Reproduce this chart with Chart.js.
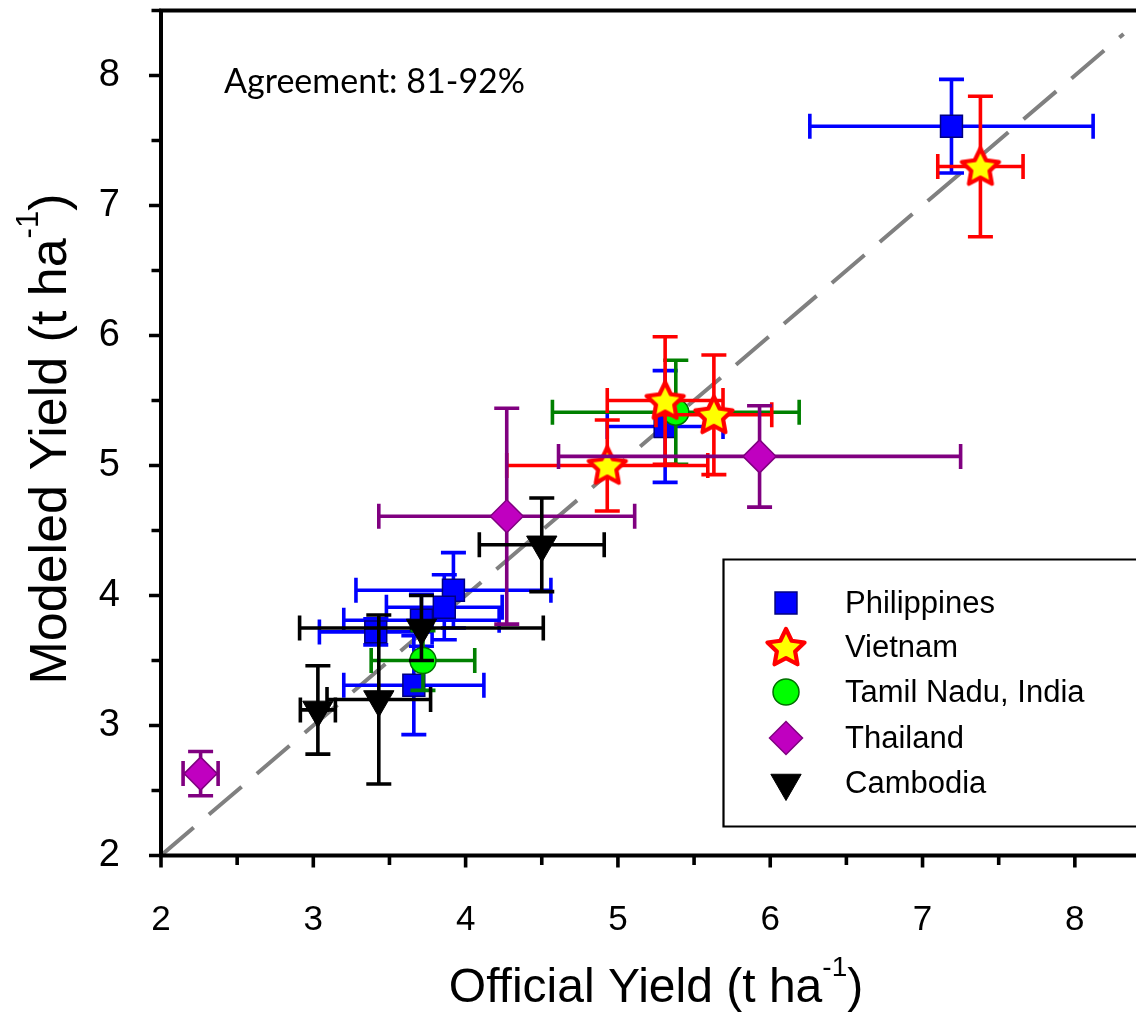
<!DOCTYPE html>
<html>
<head>
<meta charset="utf-8">
<script src="https://cdn.jsdelivr.net/npm/chart.js@4.4.1/dist/chart.umd.min.js"></script>
<style>
html,body{margin:0;padding:0;overflow:hidden;background:#ffffff;width:1136px;height:1021px}
#wrap{width:1160px;height:1021px}
canvas{display:block}
</style>
</head>
<body>
<div id="wrap"><canvas id="c" width="1160" height="1021"></canvas></div>
<script>
// ---------- data ----------
const seriesNames = ['Philippines', 'Vietnam', 'Tamil Nadu, India', 'Thailand', 'Cambodia'];

const phX    = [7.19, 5.31, 3.92, 3.86, 3.71, 3.41, 3.66];
const phY    = [7.61, 5.30, 4.04, 3.91, 3.81, 3.72, 3.31];
const phXErr = [0.93, 0.38, 0.64, 0.38, 0.51, 0.37, 0.46];
const phYErr = [0.36, 0.43, 0.29, 0.25, 0.20, 0.10, 0.38];

const vnX    = [7.38, 5.31, 5.63, 4.93];
const vnY    = [7.30, 5.50, 5.39, 5.00];
const vnXErr = [0.28, 0.38, 0.38, 0.66];
const vnYErr = [0.54, 0.49, 0.46, 0.35];

const tnX    = [5.38, 3.72];
const tnY    = [5.41, 3.50];
const tnXErr = [0.81, 0.34];
const tnYErr = [0.40, 0.23];

const thX    = [5.93, 4.27, 2.26];
const thY    = [5.07, 4.61, 2.63];
const thXErr = [1.32, 0.84, 0.115];
const thYErr = [0.39, 0.83, 0.17];

const cbX    = [4.50, 3.71, 3.43, 3.03];
const cbY    = [4.39, 3.75, 3.20, 3.12];
const cbXErr = [0.41, 0.80, 0.34, 0.115];
const cbYErr = [0.36, 0.25, 0.65, 0.34];

const oneToOneX = [2, 8.32];
const oneToOneY = [2, 8.32];

const axisMin = 2, axisMax = 8.5, tickStep = 0.5;
const tickValues = [2, 3, 4, 5, 6, 7, 8];
const tickLabels = ['2', '3', '4', '5', '6', '7', '8'];
const xTitle = ['Official Yield (t ha', '-1', ')'];
const yTitle = ['Modeled Yield (t ha', '-1', ')'];
const annotationText = 'Agreement: 81-92%';

// ---------- helpers ----------
const FONT = "'Liberation Sans', Arial, Helvetica, sans-serif";
const pts = (xs, ys) => xs.map((x, i) => ({x: x, y: ys[i]}));
const labelFor = v => { const k = tickValues.indexOf(v); return k >= 0 ? tickLabels[k] : ''; };

function makeStar(R, ri, fill, stroke, lw) {
  const size = Math.ceil(2 * R + 2 * lw + 4);
  const cv = document.createElement('canvas');
  cv.width = size; cv.height = size;
  const g = cv.getContext('2d');
  const c = size / 2;
  g.beginPath();
  for (let i = 0; i < 10; i++) {
    const r = i % 2 ? ri : R;
    const a = -Math.PI / 2 + i * Math.PI / 5;
    const px = c + r * Math.cos(a), py = c + 1.5 + r * Math.sin(a);
    if (i) g.lineTo(px, py); else g.moveTo(px, py);
  }
  g.closePath();
  g.fillStyle = fill; g.fill();
  g.lineWidth = lw; g.lineJoin = 'round'; g.strokeStyle = stroke; g.stroke();
  return cv;
}
const starImg = makeStar(19.5, 9.6, '#FFFF00', '#FF0000', 4.2);

const CAP = 12.5;
const errorBars = {
  id: 'errorBars',
  beforeDatasetDraw(chart, args) {
    const ds = chart.data.datasets[args.index];
    if (!ds.errX) return;
    const ctx = chart.ctx, xs = chart.scales.x, ys = chart.scales.y;
    ctx.save();
    ctx.strokeStyle = ds.errColor;
    ctx.lineWidth = 3.6;
    ctx.lineCap = 'butt';
    ds.data.forEach((p, i) => {
      const cx = xs.getPixelForValue(p.x), cy = ys.getPixelForValue(p.y);
      const x0 = xs.getPixelForValue(p.x - ds.errX[i]), x1 = xs.getPixelForValue(p.x + ds.errX[i]);
      const y0 = ys.getPixelForValue(p.y - ds.errY[i]), y1 = ys.getPixelForValue(p.y + ds.errY[i]);
      ctx.beginPath();
      ctx.moveTo(x0, cy); ctx.lineTo(x1, cy);
      ctx.moveTo(cx, y0); ctx.lineTo(cx, y1);
      ctx.moveTo(x0, cy - CAP); ctx.lineTo(x0, cy + CAP);
      ctx.moveTo(x1, cy - CAP); ctx.lineTo(x1, cy + CAP);
      ctx.moveTo(cx - CAP, y0); ctx.lineTo(cx + CAP, y0);
      ctx.moveTo(cx - CAP, y1); ctx.lineTo(cx + CAP, y1);
      ctx.stroke();
    });
    ctx.restore();
  }
};

function drawMarker(ctx, ds, x, y) {
  const st = ds.pointStyle, r = ds.pointRadius;
  ctx.save();
  ctx.fillStyle = ds.backgroundColor;
  ctx.strokeStyle = ds.borderColor;
  ctx.lineWidth = ds.borderWidth;
  if (st instanceof HTMLCanvasElement) {
    ctx.drawImage(st, x - st.width / 2, y - st.height / 2);
    ctx.restore(); return;
  }
  ctx.beginPath();
  if (st === 'rect') {
    const s = Math.SQRT1_2 * r; ctx.rect(x - s, y - s, 2 * s, 2 * s);
  } else if (st === 'circle') {
    ctx.arc(x, y, r, 0, Math.PI * 2);
  } else if (st === 'rectRot') {
    ctx.moveTo(x - r, y); ctx.lineTo(x, y - r); ctx.lineTo(x + r, y); ctx.lineTo(x, y + r);
  } else if (st === 'triangle') {
    let a = Math.PI;
    for (let k = 0; k < 3; k++) {
      const px = x + Math.sin(a) * r, py = y - Math.cos(a) * r;
      if (k) ctx.lineTo(px, py); else ctx.moveTo(px, py);
      a += 2 * Math.PI / 3;
    }
  }
  ctx.closePath();
  ctx.fill();
  if (ds.borderWidth > 0) ctx.stroke();
  ctx.restore();
}

function drawTitle(ctx, parts, size, supSize, supRise) {
  ctx.font = size + 'px ' + FONT;
  const w1 = ctx.measureText(parts[0]).width;
  const w3 = ctx.measureText(parts[2]).width;
  ctx.font = supSize + 'px ' + FONT;
  const w2 = ctx.measureText(parts[1]).width;
  let x = -(w1 + w2 + w3) / 2;
  ctx.textAlign = 'left'; ctx.textBaseline = 'alphabetic'; ctx.fillStyle = '#000';
  ctx.font = size + 'px ' + FONT; ctx.fillText(parts[0], x, 0); x += w1;
  ctx.font = supSize + 'px ' + FONT; ctx.fillText(parts[1], x, -supRise); x += w2;
  ctx.font = size + 'px ' + FONT; ctx.fillText(parts[2], x, 0);
}

const frame = {
  id: 'frame',
  afterDatasetsDraw(chart) {
    const ctx = chart.ctx, xs = chart.scales.x, ys = chart.scales.y, a = chart.chartArea;
    ctx.save();
    ctx.strokeStyle = '#000';
    ctx.lineCap = 'butt';
    ctx.lineWidth = 3.6;
    ctx.beginPath();
    for (let v = axisMin; v <= axisMax + 1e-9; v += tickStep) {
      const major = Math.abs(v - Math.round(v)) < 1e-9;
      const py = ys.getPixelForValue(v);
      ctx.moveTo(a.left, py); ctx.lineTo(a.left - (major ? 12 : 9.5), py);
      const px = xs.getPixelForValue(v);
      ctx.moveTo(px, a.bottom); ctx.lineTo(px, a.bottom + (major ? 12 : 9.5));
    }
    ctx.stroke();
    ctx.lineWidth = 4;
    ctx.beginPath();
    ctx.moveTo(a.left, a.top - 2); ctx.lineTo(a.left, a.bottom + 2);
    ctx.moveTo(a.left - 2, a.bottom); ctx.lineTo(chart.width, a.bottom);
    ctx.moveTo(a.left - 2, a.top); ctx.lineTo(chart.width, a.top);
    ctx.stroke();
    ctx.restore();
  },
  afterDraw(chart) {
    const ctx = chart.ctx, a = chart.chartArea;
    ctx.save();
    ctx.fillStyle = '#000';
    ctx.font = '34px Lato, "Open Sans", sans-serif';
    ctx.textAlign = 'left'; ctx.textBaseline = 'alphabetic';
    ctx.fillText(annotationText, 224, 93);
    ctx.save();
    ctx.translate((a.left + a.right) / 2, 1001.5);
    drawTitle(ctx, xTitle, 48, 28, 26);
    ctx.restore();
    ctx.save();
    ctx.translate(66, 439);
    ctx.rotate(-Math.PI / 2);
    drawTitle(ctx, yTitle, 52, 31, 28);
    ctx.restore();
    ctx.lineWidth = 2.2;
    ctx.strokeStyle = '#000';
    ctx.fillStyle = '#fff';
    ctx.beginPath();
    ctx.rect(723.5, 559.5, 500, 267);
    ctx.fill();
    ctx.stroke();
    const rows = [603, 647, 692, 738, 783];
    const legendOrder = [1, 3, 2, 4, 5];
    ctx.font = '31px ' + FONT;
    ctx.textAlign = 'left'; ctx.textBaseline = 'middle';
    legendOrder.forEach((di, k) => {
      const ds = chart.data.datasets[di];
      drawMarker(ctx, ds, 786, rows[k]);
      ctx.fillStyle = '#000';
      ctx.fillText(ds.label, 845, rows[k] + 1);
    });
    ctx.restore();
  }
};

// ---------- chart ----------
const datasets = [
  {
    label: '1:1', data: pts(oneToOneX, oneToOneY), showLine: true, pointRadius: 0,
    borderColor: '#808080', borderWidth: 4, borderDash: [43, 20], borderCapStyle: 'butt',
    fill: false, order: 10
  },
  {
    label: seriesNames[0], data: pts(phX, phY), errX: phXErr, errY: phYErr, errColor: '#0000FF',
    pointStyle: 'rect', pointRadius: 15.5, backgroundColor: '#0000FF', borderColor: '#000080', borderWidth: 1.5,
    order: 5
  },
  {
    label: seriesNames[2], data: pts(tnX, tnY), errX: tnXErr, errY: tnYErr, errColor: '#008000',
    pointStyle: 'circle', pointRadius: 13, backgroundColor: '#00FF00', borderColor: '#007000', borderWidth: 1.5,
    order: 4
  },
  {
    label: seriesNames[1], data: pts(vnX, vnY), errX: vnXErr, errY: vnYErr, errColor: '#FF0000',
    pointStyle: starImg, pointRadius: 19, backgroundColor: '#FFFF00', borderColor: '#FF0000', borderWidth: 0,
    order: 3
  },
  {
    label: seriesNames[3], data: pts(thX, thY), errX: thXErr, errY: thYErr, errColor: '#800080',
    pointStyle: 'rectRot', pointRadius: 16.5, backgroundColor: '#C000C0', borderColor: '#800080', borderWidth: 1.5,
    order: 2
  },
  {
    label: seriesNames[4], data: pts(cbX, cbY), errX: cbXErr, errY: cbYErr, errColor: '#000000',
    pointStyle: 'triangle', pointRotation: 180, pointRadius: 17.5, backgroundColor: '#000000', borderColor: '#000000', borderWidth: 1,
    order: 1
  }
];

new Chart(document.getElementById('c'), {
  type: 'scatter',
  data: { datasets: datasets },
  options: {
    responsive: false,
    animation: false,
    events: [],
    layout: { autoPadding: false, padding: { left: 0, top: 10.5, right: 9, bottom: 0 } },
    plugins: { legend: { display: false }, tooltip: { enabled: false } },
    scales: {
      x: {
        type: 'linear', position: 'bottom', min: axisMin, max: axisMax,
        grid: { display: false }, border: { display: false },
        ticks: { stepSize: tickStep, autoSkip: false, maxRotation: 0, padding: 36, color: '#000',
                 font: { family: FONT, size: 35 }, callback: v => labelFor(v) },
        afterFit(s) { s.height = 165.5; s.paddingLeft = 0; s.paddingRight = 0; }
      },
      y: {
        type: 'linear', position: 'left', min: axisMin, max: axisMax,
        grid: { display: false }, border: { display: false },
        ticks: { stepSize: tickStep, autoSkip: false, padding: 33, color: '#000',
                 font: { family: FONT, size: 38 }, callback: v => labelFor(v) },
        afterFit(s) { s.width = 161; s.paddingTop = 0; s.paddingBottom = 0; }
      }
    }
  },
  plugins: [errorBars, frame]
});
</script>
</body>
</html>
